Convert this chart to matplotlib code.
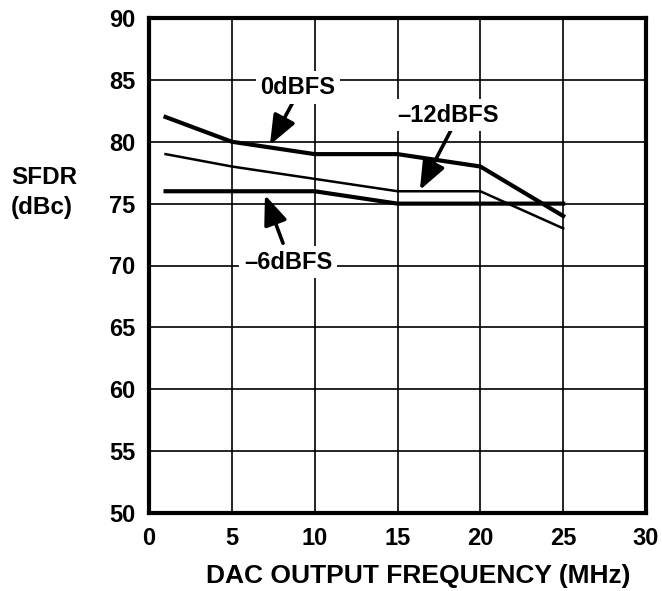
import matplotlib
matplotlib.use("Agg")
import matplotlib.pyplot as plt

plt.rcParams['font.family'] = ['Liberation Sans', 'DejaVu Sans']
plt.rcParams['font.weight'] = 'bold'

freq = [1, 5, 10, 15, 20, 25]
sfdr_0dbfs = [82, 80, 79, 79, 78, 74]
sfdr_m6dbfs = [76, 76, 76, 75, 75, 75]
sfdr_m12dbfs = [79, 78, 77, 76, 76, 73]

x_ticks = [0, 5, 10, 15, 20, 25, 30]
y_ticks = [50, 55, 60, 65, 70, 75, 80, 85, 90]

fig = plt.figure(figsize=(6.62, 5.91), dpi=100)
ax = fig.add_axes([149/662, 1-513/591, (646-149)/662, (513-18)/591])

ax.set_xlim(0, 30)
ax.set_ylim(50, 90)
ax.set_xticks(x_ticks)
ax.set_yticks(y_ticks)
ax.grid(True, color='black', linewidth=1.2)
ax.set_axisbelow(True)
ax.tick_params(length=0, pad=10, labelsize=17)
for lbl in ax.get_xticklabels() + ax.get_yticklabels():
    lbl.set_fontweight('bold')
for s in ax.spines.values():
    s.set_linewidth(3)

ax.plot(freq, sfdr_0dbfs, color='black', linewidth=3, solid_joinstyle='round')
ax.plot(freq, sfdr_m6dbfs, color='black', linewidth=3, solid_joinstyle='round')
ax.plot(freq, sfdr_m12dbfs, color='black', linewidth=1.8, solid_joinstyle='round')

arrow = dict(arrowstyle='-|>,head_length=0.75,head_width=0.3', lw=2.6,
             color='black', mutation_scale=24, shrinkA=0, shrinkB=0)
bbox = dict(boxstyle='square,pad=0.2', fc='white', ec='none')

ax.annotate('', xy=(7.3, 79.74), xytext=(8.81, 83.5), arrowprops=arrow)
ax.text(8.99, 84.4, '0dBFS', ha='center', va='center', fontsize=17,
        fontweight='bold', bbox=bbox)

ax.annotate('', xy=(7.0, 75.7), xytext=(8.09, 71.8), arrowprops=arrow)
ax.text(8.39, 70.28, '\u20136dBFS', ha='center', va='center', fontsize=17,
        fontweight='bold', bbox=bbox)

ax.annotate('', xy=(16.35, 76.1), xytext=(18.29, 81.1), arrowprops=arrow)
ax.text(18.04, 82.16, '\u201312dBFS', ha='center', va='center', fontsize=17,
        fontweight='bold', bbox=bbox)

fig.text(11/662, 1-177/591, 'SFDR', ha='left', va='center', fontsize=17.5, fontweight='bold')
fig.text(11/662, 1-207/591, '(dBc)', ha='left', va='center', fontsize=17.5, fontweight='bold')
fig.text(418/662, 1-576/591, 'DAC OUTPUT FREQUENCY (MHz)', ha='center', va='center',
         fontsize=19, fontweight='bold')

fig.savefig('out.png', dpi=100)
